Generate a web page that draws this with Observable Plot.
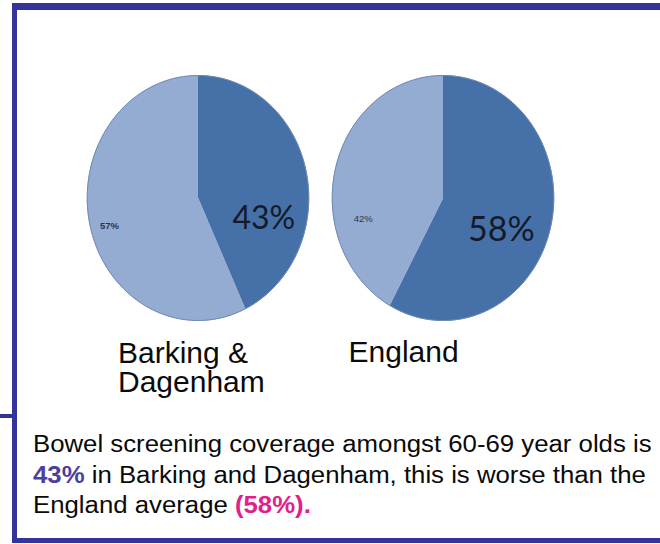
<!DOCTYPE html>
<html><head><meta charset="utf-8">
<script src="https://cdn.jsdelivr.net/npm/d3@7"></script>
<script src="https://cdn.jsdelivr.net/npm/@observablehq/plot@0.6"></script>
<style>
html,body{margin:0;padding:0;background:#fff;}
#wrap{position:relative;width:660px;height:544px;overflow:hidden;background:#fff;font-family:"Liberation Sans",Arial,sans-serif;}
.bar{position:absolute;background:#333399;}
#chart{position:absolute;left:0;top:0;}
#caption{position:absolute;left:33px;top:429px;font-size:23px;line-height:30.5px;color:#0a0a0a;white-space:nowrap;transform:scaleX(1.12);transform-origin:0 0;}
</style></head><body>
<div id="wrap">
  <div id="chart"></div>
  <div id="caption"></div>
  <div class="bar" style="left:12px;top:3px;right:0;height:7px"></div>
  <div class="bar" style="left:12px;top:3px;width:5px;height:540px"></div>
  <div class="bar" style="left:12px;top:538px;right:0;height:5px"></div>
  <div class="bar" style="left:0;top:414px;width:12px;height:4px"></div>
</div>
<script>
const areas = ["Barking & Dagenham", "England"];
const segments = ["Screened", "Not screened"];
const screened = [43, 58];
const notScreened = [57, 42];

const pie = d3.pie().sort(null).value(d => d.value);
const slices = [], outline = [], labels = [];
areas.forEach((area, i) => {
  const vals = [{segment: segments[0], value: screened[i]}, {segment: segments[1], value: notScreened[i]}];
  pie(vals).forEach(a => {
    const n = Math.max(2, Math.ceil((a.endAngle - a.startAngle) / (Math.PI / 120)));
    slices.push({area, segment: a.data.segment, x: 0, y: 0});
    for (let k = 0; k <= n; k++) {
      const t = a.startAngle + (a.endAngle - a.startAngle) * k / n;
      const p = {area, segment: a.data.segment, x: Math.sin(t), y: Math.cos(t)};
      slices.push(p);
      outline.push({...p});
    }
    labels.push({area, segment: a.data.segment, value: a.data.value, mid: (a.startAngle + a.endAngle) / 2});
  });
});

const lab = (area, seg) => labels.filter(d => d.area === area && d.segment === seg);
const px = r => d => Math.sin(d.mid) * r;
const py = r => d => Math.cos(d.mid) * r;
const pct = d => d.value + "%";

const chart = Plot.plot({
  width: 660, height: 410,
  marginTop: 75, marginBottom: 90, marginLeft: 74.25, marginRight: 94.75,
  fx: {domain: areas, padding: 0, axis: null},
  x: {domain: [-1.106, 1.106], axis: null},
  y: {domain: [-1, 1], axis: null},
  color: {domain: segments, range: ["#4571a8", "#94abd2"]},
  style: {background: "transparent", fontFamily: "'Liberation Sans', Arial, sans-serif", overflow: "visible"},
  marks: [
    Plot.line(slices, {x: "x", y: "y", fx: "area", z: "segment", fill: "segment", stroke: "segment", strokeWidth: 0.6}),
    Plot.line(outline, {x: "x", y: "y", fx: "area", stroke: "#6f87b3", strokeWidth: 1}),
    Plot.text(lab(areas[0], segments[0]), {x: px(0.6), y: py(0.6), fx: "area", text: pct, fontSize: 32, fontFamily: "Lato", fill: "#141a2a", dx: 1, dy: 36.5}),
    Plot.text(lab(areas[1], segments[0]), {x: px(0.6), y: py(0.6), fx: "area", text: pct, fontSize: 34, fontFamily: "Lato", fill: "#141a2a", dx: -6, dy: 14}),
    Plot.text(lab(areas[0], segments[1]), {x: px(0.8), y: py(0.8), fx: "area", text: pct, fontSize: 9.5, fontWeight: "bold", fill: "#2a3552", dx: -2, dy: 7}),
    Plot.text(lab(areas[1], segments[1]), {x: px(0.8), y: py(0.8), fx: "area", text: pct, fontSize: 9.5, fill: "#2a3552", dx: 6, dy: 45}),
    Plot.text([areas[0]], {fx: d => d, text: d => d, frameAnchor: "bottom", textAnchor: "start", lineAnchor: "top", lineWidth: 7, lineHeight: 1.0, fontSize: 30, fill: "#0a0a0a", dx: -80, dy: 20.7}),
    Plot.text([areas[1]], {fx: d => d, text: d => d, frameAnchor: "bottom", textAnchor: "start", lineAnchor: "top", lineWidth: 7, lineHeight: 1.0, fontSize: 30, fill: "#0a0a0a", dx: -94.5, dy: 20})
  ]
});
document.getElementById("chart").appendChild(chart);

document.getElementById("caption").innerHTML =
  "Bowel screening coverage amongst 60-69 year olds is<br>" +
  `<b style="color:#4b3fa0">${screened[0]}%</b> in Barking and Dagenham, this is worse than the<br>` +
  `England average <b style="color:#e0208c">(${screened[1]}%).</b>`;
</script>
</body></html>
